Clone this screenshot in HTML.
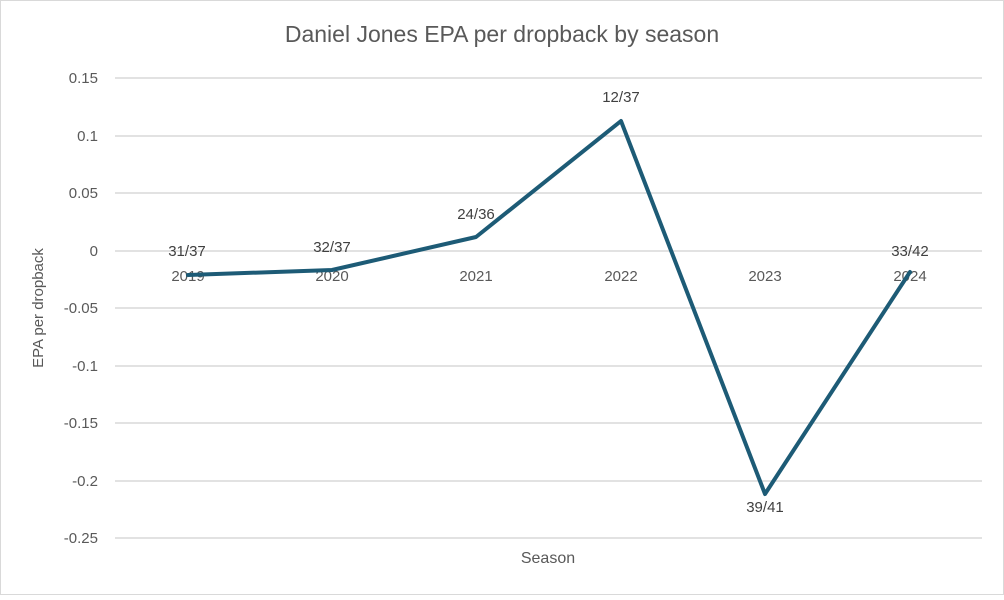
<!DOCTYPE html>
<html><head><style>
body{margin:0;background:#fff;}
svg text{font-family:"Liberation Sans",sans-serif;}
</style></head><body>
<svg width="1004" height="595" xmlns="http://www.w3.org/2000/svg">
<rect x="0.5" y="0.5" width="1003" height="594" fill="#fff" stroke="#d9d9d9"/>
<text x="502" y="42" text-anchor="middle" font-size="23" fill="#595959">Daniel Jones EPA per dropback by season</text>
<g stroke="#d9d9d9" stroke-width="1.5">
<line x1="115" x2="982" y1="78" y2="78"/>
<line x1="115" x2="982" y1="136" y2="136"/>
<line x1="115" x2="982" y1="193" y2="193"/>
<line x1="115" x2="982" y1="251" y2="251"/>
<line x1="115" x2="982" y1="308" y2="308"/>
<line x1="115" x2="982" y1="366" y2="366"/>
<line x1="115" x2="982" y1="423" y2="423"/>
<line x1="115" x2="982" y1="481" y2="481"/>
<line x1="115" x2="982" y1="538" y2="538"/>
</g>
<g font-size="15" fill="#595959" text-anchor="end">
<text x="98" y="83">0.15</text>
<text x="98" y="141">0.1</text>
<text x="98" y="198">0.05</text>
<text x="98" y="256">0</text>
<text x="98" y="313">-0.05</text>
<text x="98" y="371">-0.1</text>
<text x="98" y="428">-0.15</text>
<text x="98" y="486">-0.2</text>
<text x="98" y="543">-0.25</text>
</g>
<text transform="translate(43,308) rotate(-90)" text-anchor="middle" font-size="15" fill="#595959">EPA per dropback</text>
<text x="548" y="563" text-anchor="middle" font-size="16" fill="#595959">Season</text>
<g font-size="15" fill="#595959" text-anchor="middle">
<text x="188" y="281">2019</text>
<text x="332" y="281">2020</text>
<text x="476" y="281">2021</text>
<text x="621" y="281">2022</text>
<text x="765" y="281">2023</text>
<text x="910" y="281">2024</text>
</g>
<polyline points="188,275 332,270 476,237 621,121 765,494 910,272" fill="none" stroke="#1d5b76" stroke-width="4" stroke-linejoin="round" stroke-linecap="round"/>
<g font-size="15" fill="#404040" text-anchor="middle">
<text x="187" y="256">31/37</text>
<text x="332" y="252">32/37</text>
<text x="476" y="219">24/36</text>
<text x="621" y="102">12/37</text>
<text x="765" y="512">39/41</text>
<text x="910" y="256">33/42</text>
</g>
</svg>
</body></html>
